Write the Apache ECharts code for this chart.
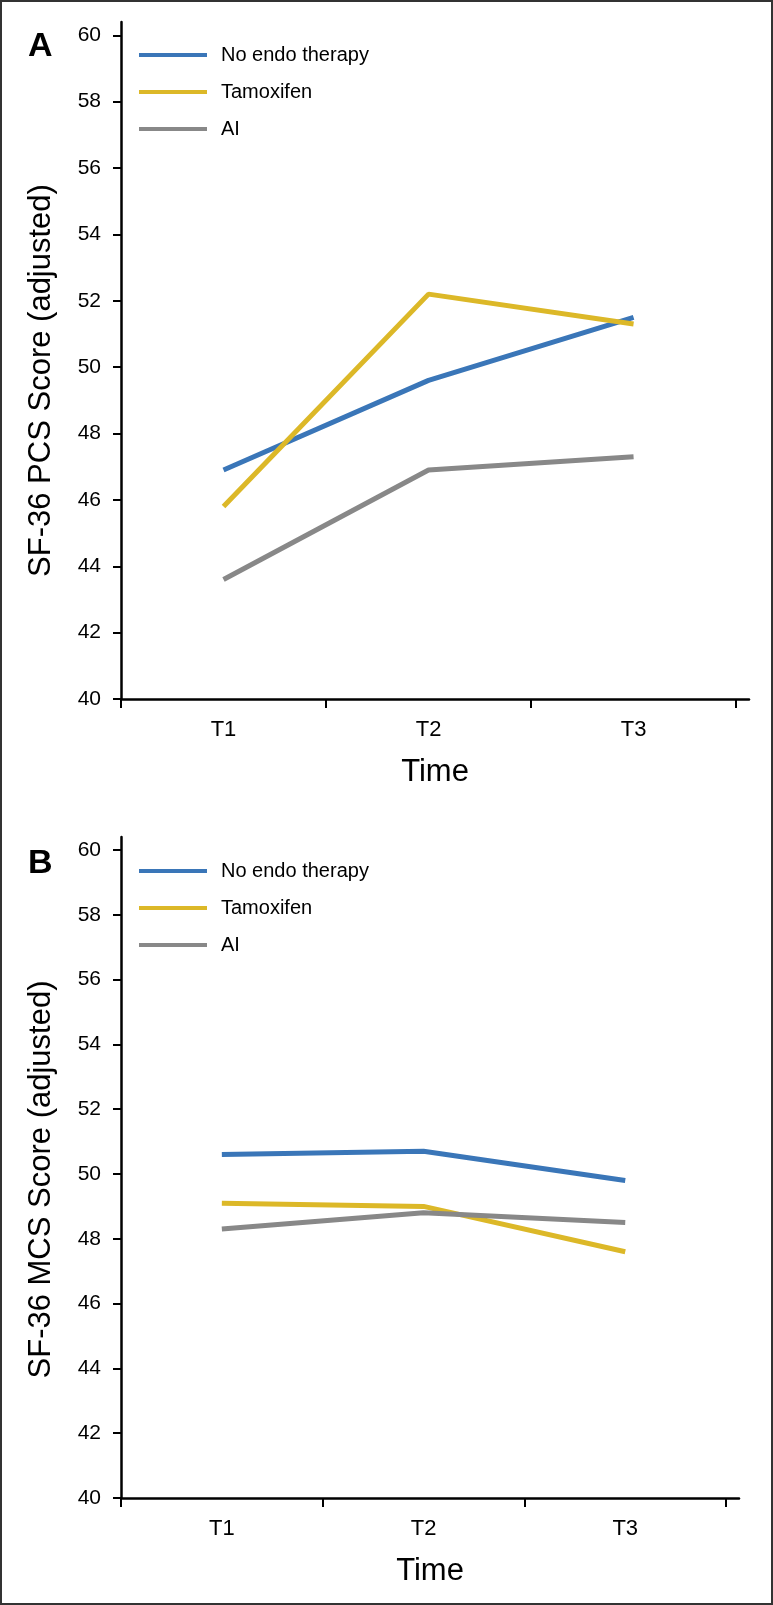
<!DOCTYPE html>
<html>
<head>
<meta charset="utf-8">
<script src="https://cdn.jsdelivr.net/npm/echarts@6/dist/echarts.min.js"></script>
<style>
html,body{margin:0;padding:0;background:#fff;}
#chart{width:773px;height:1605px;}
</style>
</head>
<body>
<div id="chart"></div>
<script>
const categories = ['T1', 'T2', 'T3'];
const seriesNames = ['No endo therapy', 'Tamoxifen', 'AI'];
const seriesColors = ['#3a76b8', '#dcb828', '#888888'];
const pcsNoEndo = [46.9, 49.6, 51.5];
const pcsTamoxifen = [45.8, 52.2, 51.3];
const pcsAI = [43.6, 46.9, 47.3];
const mcsNoEndo = [50.6, 50.7, 49.8];
const mcsTamoxifen = [49.1, 49.0, 47.6];
const mcsAI = [48.3, 48.8, 48.5];
const yTicks = [40, 42, 44, 46, 48, 50, 52, 54, 56, 58, 60];
const panelLetters = ['A', 'B'];
const yTitles = ['SF-36 PCS Score (adjusted)', 'SF-36 MCS Score (adjusted)'];
const xTitle = 'Time';

const FONT = '"Liberation Sans", Arial, Helvetica, sans-serif';
const xTickPos = categories.map((c, i) => i).concat([categories.length]);
const xLabelPos = categories.map((c, i) => i + 0.5);
const toPoints = vals => vals.map((v, i) => [i + 0.5, v]);

const panels = [
  {data: [pcsNoEndo, pcsTamoxifen, pcsAI], grid: {left: 121, top: 22, width: 628, height: 677}, xMax: 3.063, legendTop: 40, titleShift: 40},
  {data: [mcsNoEndo, mcsTamoxifen, mcsAI], grid: {left: 121, top: 837, width: 618, height: 661}, xMax: 3.064, legendTop: 856, titleShift: 24}
];

const chart = echarts.init(document.getElementById('chart'), null, {renderer: 'canvas'});

const option = {
  backgroundColor: '#fff',
  animation: false,
  title: panels.map((p, k) => ({
    text: panelLetters[k],
    left: 23, top: p.grid.top + (k === 0 ? 3 : 5),
    textStyle: {fontFamily: FONT, fontSize: 34, fontWeight: 'bold', color: '#000'}
  })),
  graphic: [{
    type: 'rect', shape: {x: 1, y: 1, width: 771, height: 1603},
    style: {fill: 'none', stroke: '#333', lineWidth: 2}, silent: true
  }],
  legend: panels.map((p, k) => ({
    orient: 'vertical', left: 134, top: p.legendTop,
    icon: 'rect', itemWidth: 68, itemHeight: 4, itemGap: 17,
    data: seriesNames,
    selectedMode: false,
    textStyle: {fontFamily: FONT, fontSize: 20, color: '#000', lineHeight: 20, padding: [0, 0, 0, 9]}
  })),
  grid: panels.map(p => Object.assign({outerBoundsMode: 'none', containLabel: false}, p.grid)),
  xAxis: panels.map((p, k) => ({
    type: 'value', gridIndex: k, min: 0, max: p.xMax,
    name: xTitle, nameLocation: 'middle', nameGap: 58,
    nameTextStyle: {fontFamily: FONT, fontSize: 31, color: '#000'},
    axisLine: {show: true, onZero: false, lineStyle: {color: '#000', width: 2.5}},
    axisTick: {show: true, customValues: xTickPos, length: 9, lineStyle: {color: '#000', width: 2}},
    axisLabel: {customValues: xLabelPos, margin: 20, fontFamily: FONT, fontSize: 22, color: '#000',
      formatter: v => categories[Math.floor(v)]},
    splitLine: {show: false}
  })),
  yAxis: panels.map((p, k) => ({
    type: 'value', gridIndex: k, min: 40, max: 60.4,
    name: yTitles[k], nameLocation: 'middle', nameGap: 64, nameRotate: 90,
    nameTextStyle: {fontFamily: FONT, fontSize: 31, color: '#000', padding: [0, p.titleShift, 0, 0]},
    axisLine: {show: true, onZero: false, lineStyle: {color: '#000', width: 2.5}},
    axisTick: {show: true, customValues: yTicks, length: 8, lineStyle: {color: '#000', width: 2}},
    axisLabel: {customValues: yTicks, margin: 20, fontFamily: FONT, fontSize: 21, color: '#000'},
    splitLine: {show: false}
  })),
  series: []
};

panels.forEach((p, k) => {
  p.data.forEach((vals, s) => {
    option.series.push({
      type: 'line', name: seriesNames[s], xAxisIndex: k, yAxisIndex: k,
      data: toPoints(vals), symbol: 'none',
      lineStyle: {color: seriesColors[s], width: 5},
      itemStyle: {color: seriesColors[s]},
      z: 2 + s
    });
  });
});

chart.setOption(option);
</script>
</body>
</html>
